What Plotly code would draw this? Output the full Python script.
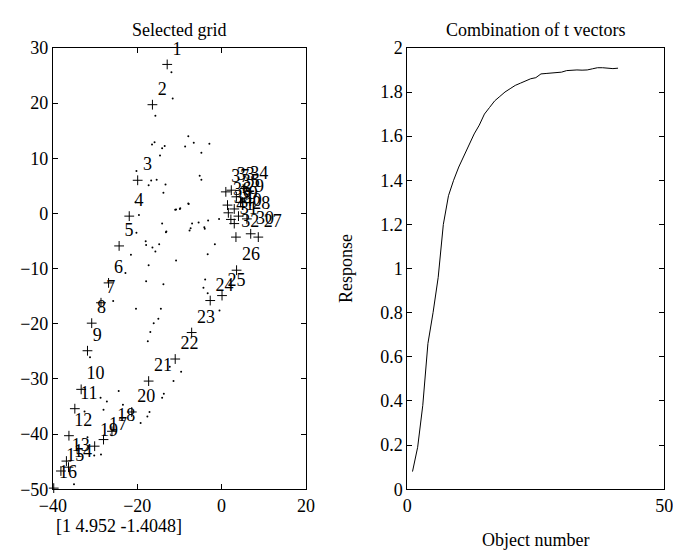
import plotly.graph_objects as go

# ---- Left panel: selected grid (labelled objects) ----
grid_labels = [str(i) for i in range(1, 42)]
grid_x = [-12.9, -16.4, -19.9, -21.9, -24.3, -26.8, -28.6, -30.8, -31.8, -33.3,
          -34.8, -36.2, -36.8, -36.3, -38.1, -39.8, -28.0, -26.0, -30.1, -21.3,
          -17.3, -11.0, -7.1, -2.7, 0.1, 3.55, 8.7, 6.0, 4.5, 6.9,
          3.0, 3.4, 2.3, 5.5, 3.5, 1.4, 1.0, 1.6, 3.0, 4.0, 2.2]
grid_y = [27.0, 19.7, 6.0, -0.5, -5.9, -12.6, -16.2, -19.9, -24.9, -31.9,
          -35.4, -40.3, -44.9, -46.0, -46.7, -49.8, -41.0, -39.5, -42.2, -36.0,
          -30.4, -26.4, -21.6, -15.8, -14.9, -10.3, -4.3, -1.0, 2.0, -3.7,
          -1.85, -4.3, 4.2, 4.5, 3.0, 1.5, 3.9, 0.1, 0.8, -0.5, -1.1]

# background grid points (small dots)
dot_x = [-11.9, -11.6, -15.7, -16.5, -15.9, -14.1, -13.5, -14.6, -20.2, -16.7,
         -17.3, -15.4, -13.3, -13.8, -7.9, -8.65, -6.6, -2.9, -4.8, -5.2,
         -4.8, -20.4, -9.8, -7.9, -7.0, -5.45, -3.2, -0.6, -7.35, -4.1,
         -1.6, -3.3, -3.9, -4.3, -3.3, -0.5, -10.8, -9.9, -7.8, -7.6,
         -4.0, -13.2, -19.6, -11.0, -14.1, -13.1, -20.2, -18.0, -17.9, -16.4,
         -15.7, -14.8, -21.5, -10.8, -17.3, -22.8, -17.9, -13.8, -25.7, -20.3,
         -14.4, -15.0, -16.1, -16.9, -17.5, -31.2, -24.4, -28.7, -27.2, -28.0,
         -23.4, -32.5, -19.2, -17.1, -17.6, -13.7, -14.1, -12.3, -11.4, -31.8,
         -30.2, -28.6, -35.0, -9.6]
dot_y = [25.6, 20.8, 17.7, 12.5, 12.9, 11.8, 12.2, 10.5, 7.7, 5.95,
         5.1, 6.1, 5.25, 3.75, 14.0, 12.1, 12.8, 12.6, 11.0, 6.8,
         6.1, 2.0, 0.95, 1.8, -1.85, -1.65, -1.3, -1.0, -2.7, -2.5,
         -5.6, -7.4, -12.0, -13.5, -14.5, -17.6, 0.7, 0.8, 1.7, -3.1,
         -2.8, -3.4, -0.3, 0.65, -1.85, -3.3, -3.5, -5.05, -5.75, -6.2,
         -6.9, -5.6, -7.5, -8.55, -9.4, -10.8, -12.3, -12.85, -15.9, -17.3,
         -17.3, -19.1, -19.9, -21.5, -23.2, -26.1, -32.2, -33.4, -34.1, -35.6,
         -34.7, -35.9, -38.0, -36.0, -36.8, -32.7, -33.4, -27.8, -30.4, -40.6,
         -43.9, -43.7, -49.1, -28.7]

left_xticks = [-40, -20, 0, 20]
left_yticks = [-50, -40, -30, -20, -10, 0, 10, 20, 30]

# ---- Right panel: combination of t vectors ----
obj_number = list(range(1, 42))
response = [0.08, 0.19, 0.38, 0.66, 0.80, 0.96, 1.20, 1.33, 1.40, 1.46,
            1.51, 1.56, 1.61, 1.65, 1.70, 1.73, 1.76, 1.78, 1.80, 1.815,
            1.83, 1.84, 1.85, 1.86, 1.865, 1.882, 1.884, 1.885, 1.888, 1.89,
            1.897, 1.90, 1.90, 1.899, 1.90, 1.905, 1.91, 1.91, 1.908, 1.906,
            1.908]

FONT = "Liberation Serif"
# page body has an 8px margin, so the figure is drawn 8px in from the window corner
OFF = 8
W, H = 681 - OFF, 558 - OFF


def px(x):
    return (x - OFF) / W


def py(y):
    return 1 - (y - OFF) / H


fig = go.Figure()

fig.add_trace(go.Scatter(
    x=dot_x, y=dot_y, mode="markers",
    marker=dict(symbol="circle", size=2, color="black"),
    xaxis="x", yaxis="y", showlegend=False, hoverinfo="skip"))

# '+' markers with their number labels
fig.add_trace(go.Scatter(
    x=grid_x, y=grid_y, mode="markers+text", text=grid_labels,
    textposition="top right", cliponaxis=False,
    textfont=dict(family=FONT, size=18, color="black"),
    marker=dict(symbol="cross-thin", size=7, color="black",
                line=dict(color="black", width=1)),
    xaxis="x", yaxis="y", showlegend=False))

fig.add_trace(go.Scatter(
    x=obj_number, y=response, mode="lines",
    line=dict(color="black", width=1),
    xaxis="x2", yaxis="y2", showlegend=False))

ax_common = dict(showline=True, linecolor="black", linewidth=1, mirror="ticks",
                 ticks="inside", ticklen=5, tickcolor="black",
                 showgrid=False, zeroline=False,
                 tickfont=dict(family=FONT, size=18, color="black"))

fig.update_layout(
    width=W, height=H, autosize=False,
    margin=dict(l=0, r=0, t=0, b=0),
    paper_bgcolor="white", plot_bgcolor="white",
    xaxis=dict(domain=[px(40), px(302)], range=[-40, 20], tickvals=left_xticks,
               anchor="y", **ax_common),
    yaxis=dict(domain=[py(497), py(39)], range=[-50, 30], tickvals=left_yticks,
               anchor="x", **ax_common),
    xaxis2=dict(domain=[px(407), px(673)], range=[0, 50], tickvals=[0, 50],
                anchor="y2", **ax_common),
    yaxis2=dict(domain=[py(497), py(39)], range=[0, 2], dtick=0.2,
                anchor="x2", **ax_common),
    annotations=[
        dict(text="Selected grid", x=px(171), y=py(20), xref="paper", yref="paper",
             showarrow=False, xanchor="center", yanchor="middle",
             font=dict(family=FONT, size=18, color="black")),
        dict(text="Combination of t vectors", x=px(540), y=py(20), xref="paper",
             yref="paper", showarrow=False, xanchor="center", yanchor="middle",
             font=dict(family=FONT, size=18, color="black")),
        dict(text="Response", x=px(343), y=py(268), xref="paper", yref="paper",
             showarrow=False, xanchor="center", yanchor="middle", textangle=-90,
             font=dict(family=FONT, size=18, color="black")),
        dict(text="Object number", x=px(540), y=py(550), xref="paper", yref="paper",
             showarrow=False, xanchor="center", yanchor="middle",
             font=dict(family=FONT, size=18, color="black")),
        dict(text="[1 4.952 -1.4048]", x=px(108), y=py(535), xref="paper",
             yref="paper", showarrow=False, xanchor="center", yanchor="middle",
             font=dict(family=FONT, size=18, color="black")),
    ],
)

fig.write_html("out.html")
